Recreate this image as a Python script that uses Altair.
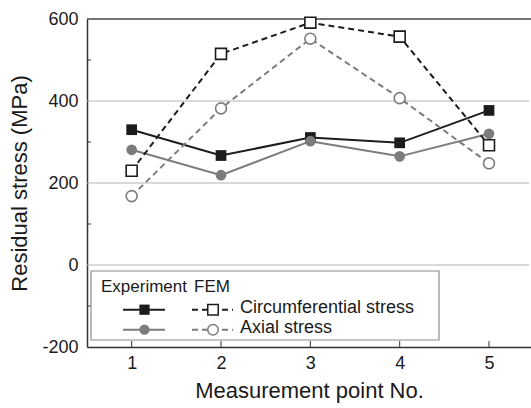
import altair as alt
import pandas as pd

# ---- data ----
points = [1, 2, 3, 4, 5]
exp_circumferential = [330, 267, 311, 298, 377]
exp_axial = [281, 219, 302, 265, 320]
fem_circumferential = [230, 515, 591, 557, 292]
fem_axial = [168, 382, 552, 407, 248]

y_tick_values = [-200, 0, 200, 400, 600]
grid_values = [0, 200, 400]
top_value = [600]
minor_values = [-100, 100, 300, 500]

legend_header = ["Experiment", "FEM"]
legend_labels = ["Circumferential stress", "Axial stress"]

FONT = "Liberation Sans"
BLACK = "#1c1c1c"
GRAY = "#7c7c7c"
TEXT = "#1a1a1a"
W, H = 444, 328

xscale = alt.Scale(domain=[0.5, 5.47], nice=False, zero=False)
yscale = alt.Scale(domain=[-200, 600], nice=False, zero=False)

yaxis = alt.Axis(orient="left", values=y_tick_values, title="Residual stress (MPa)",
                 grid=False, ticks=False, labelExpr="datum.value + ''",
                 labelPadding=9, titlePadding=10)
xaxis = alt.Axis(orient="bottom", values=points, format="d",
                 title="Measurement point No.", grid=False, ticks=False,
                 labelPadding=7, titlePadding=8)


def Y(field):
    return alt.Y(f"{field}:Q", scale=yscale, axis=yaxis)


def X(field):
    return alt.X(f"{field}:Q", scale=xscale, axis=xaxis)


# ---- axes + grid ----
grid = alt.Chart(pd.DataFrame({"v": grid_values})).mark_rule(
    color="#b4b4b4", strokeWidth=1
).encode(y=Y("v"))

top_line = alt.Chart(pd.DataFrame({"v": top_value})).mark_rule(
    color="#444444", strokeWidth=1.5
).encode(y=Y("v"))

minor_ticks = alt.Chart(pd.DataFrame({"v": minor_values})).mark_rule(
    color="#333333", strokeWidth=1
).encode(y=Y("v"), x=alt.value(0), x2=alt.value(4))

x_ticks = alt.Chart(pd.DataFrame({"v": points})).mark_rule(
    color="#333333", strokeWidth=1
).encode(x=X("v"), y=alt.value(H), y2=alt.value(H - 6))

# ---- series ----
series = [
    (exp_circumferential, BLACK, None, "square", False),
    (exp_axial, GRAY, None, "circle", False),
    (fem_circumferential, BLACK, [6, 4], "square", True),
    (fem_axial, GRAY, [6, 4], "circle", True),
]

lines, marks = [], []
for vals, color, dash, shape, hollow in series:
    df = pd.DataFrame({"v": points, "w": vals})
    lkw = dict(color=color, strokeWidth=2)
    if dash:
        lkw["strokeDash"] = dash
    lines.append(alt.Chart(df).mark_line(**lkw).encode(x=X("v"), y=Y("w")))
    if hollow:
        pm = alt.Chart(df).mark_point(shape=shape, filled=True, fill="white",
                                      stroke=color, strokeWidth=1.6, size=120,
                                      opacity=1)
    else:
        pm = alt.Chart(df).mark_point(shape=shape, filled=True, color=color,
                                      size=115, opacity=1)
    marks.append(pm.encode(x=X("v"), y=Y("w")))

# ---- legend (drawn inside the plot) ----
one = pd.DataFrame({"a": [0]})
legend_box = alt.Chart(one).mark_rect(
    fill="white", stroke="#8c8c8c", strokeWidth=1.2
).encode(x=alt.value(4), x2=alt.value(352), y=alt.value(252), y2=alt.value(321))

legend_items = [legend_box]
hdr_x = [14, 107]
for txt, xx in zip(legend_header, hdr_x):
    legend_items.append(alt.Chart(one).mark_text(
        text=txt, font=FONT, fontSize=17, color=TEXT, align="left",
        baseline="alphabetic").encode(x=alt.value(xx), y=alt.value(272.5)))

row_y = [290.7, 310.7]
for i, (lab, yy) in enumerate(zip(legend_labels, row_y)):
    _, c_exp, _, shp, _ = series[i]
    _, c_fem, dsh, _, _ = series[i + 2]
    legend_items.append(alt.Chart(one).mark_rule(color=c_exp, strokeWidth=2).encode(
        x=alt.value(36), x2=alt.value(78), y=alt.value(yy), y2=alt.value(yy)))
    legend_items.append(alt.Chart(one).mark_point(
        shape=shp, filled=True, color=c_exp, size=105, opacity=1).encode(
        x=alt.value(57.5), y=alt.value(yy)))
    legend_items.append(alt.Chart(one).mark_rule(
        color=c_fem, strokeWidth=2, strokeDash=[6, 4]).encode(
        x=alt.value(105), x2=alt.value(146), y=alt.value(yy), y2=alt.value(yy)))
    legend_items.append(alt.Chart(one).mark_point(
        shape=shp, filled=True, fill="white", stroke=c_fem, strokeWidth=1.5,
        size=110, opacity=1).encode(x=alt.value(126), y=alt.value(yy)))
    legend_items.append(alt.Chart(one).mark_text(
        text=lab, font=FONT, fontSize=18, color=TEXT, align="left",
        baseline="middle").encode(x=alt.value(153), y=alt.value(yy - 2)))

# the reference is cropped on the right: no right-hand frame
edge_cover = alt.Chart(one).mark_rule(color="white", strokeWidth=3).encode(
    x=alt.value(W - 0.5), y=alt.value(2), y2=alt.value(H - 1))

chart = alt.layer(
    grid, top_line, minor_ticks, x_ticks, *lines, *marks, *legend_items, edge_cover
).properties(
    width=W, height=H,
    autosize=alt.AutoSizeParams(type="none"),
    padding={"left": 87, "top": 19, "right": 0, "bottom": 61},
    background="white",
).configure_view(
    stroke="transparent", strokeWidth=0
).configure_axis(
    domainColor="#333333", domainWidth=1.5, labelFont=FONT, labelFontSize=18,
    labelColor=TEXT, labelFlush=False, labelOverlap=False,
    titleFont=FONT, titleFontSize=22, titleFontWeight="normal", titleColor=TEXT,
)

chart.save("out.html", embed_options={"renderer": "svg", "actions": False})
